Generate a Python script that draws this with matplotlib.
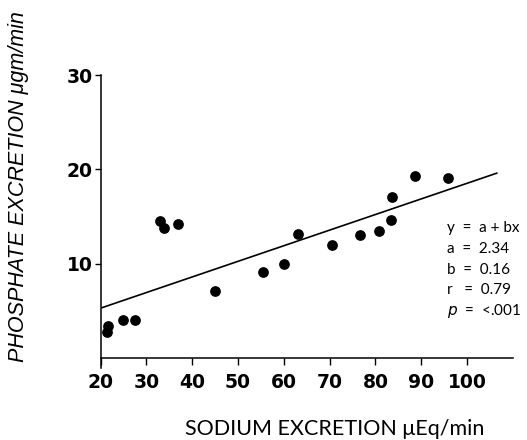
import matplotlib
matplotlib.use("Agg")
import matplotlib.pyplot as plt

# sodium vs phosphate excretion
sodium = [21.3, 21.6, 24.8, 27.6, 32.9, 33.9, 36.8, 44.9, 55.4, 60.1, 63.0,
          70.6, 76.6, 80.8, 83.5, 83.6, 88.7, 95.8]
phosphate = [2.8, 3.4, 4.0, 4.0, 14.5, 13.8, 14.2, 7.1, 9.1, 10.0, 13.2,
             12.0, 13.1, 13.5, 14.6, 17.1, 19.3, 19.1]

fit_x = [20, 106.5]
fit_y = [5.3, 19.6]

x_ticks = [20, 30, 40, 50, 60, 70, 80, 90, 100]
y_ticks = [10, 20, 30]
stats = ["y  =  a + bx", "a  =  2.34", "b  =  0.16", "r   =  0.79", "$p$  =  <.001"]

fig = plt.figure(figsize=(5.27, 4.4), dpi=100)
ax = fig.add_axes([0.191, 0.186, 0.782, 0.6435])

ax.scatter(sodium, phosphate, s=45, color="black", zorder=3)
ax.plot(fit_x, fit_y, color="black", lw=1.2)

ax.set_xlim(20, 110)
ax.set_ylim(0, 30)
ax.spines["top"].set_visible(False)
ax.spines["right"].set_visible(False)
ax.spines["left"].set_bounds(-1, 30)
ax.spines["left"].set_linewidth(1.1)
ax.spines["bottom"].set_linewidth(1.1)

ax.set_xticks(x_ticks)
ax.set_xticklabels([str(v) for v in x_ticks], fontsize=13.5, fontweight="bold")
ax.set_yticks(y_ticks)
ax.set_yticklabels([str(v) for v in y_ticks], fontsize=13.5, fontweight="bold")
ax.tick_params(axis="x", direction="out", length=5, width=1, pad=6)
ax.tick_params(axis="y", direction="out", length=4, width=1, pad=2)

for i, s in enumerate(stats):
    ax.text(447 / 527, (440 - 228 - i * 20.8) / 440, s, transform=fig.transFigure,
            fontsize=11, family="Lato", va="center", ha="left")

fig.text(335 / 527, 1 - 429 / 440, "SODIUM EXCRETION μEq/min", fontsize=15.5,
         family="Lato", ha="center", va="center")
fig.text(19 / 527, 1 - 187 / 440, "PHOSPHATE EXCRETION μgm/min", fontsize=15.5,
         family="Liberation Sans", style="italic", rotation=90,
         ha="center", va="center")

fig.savefig("out.png", dpi=100)
